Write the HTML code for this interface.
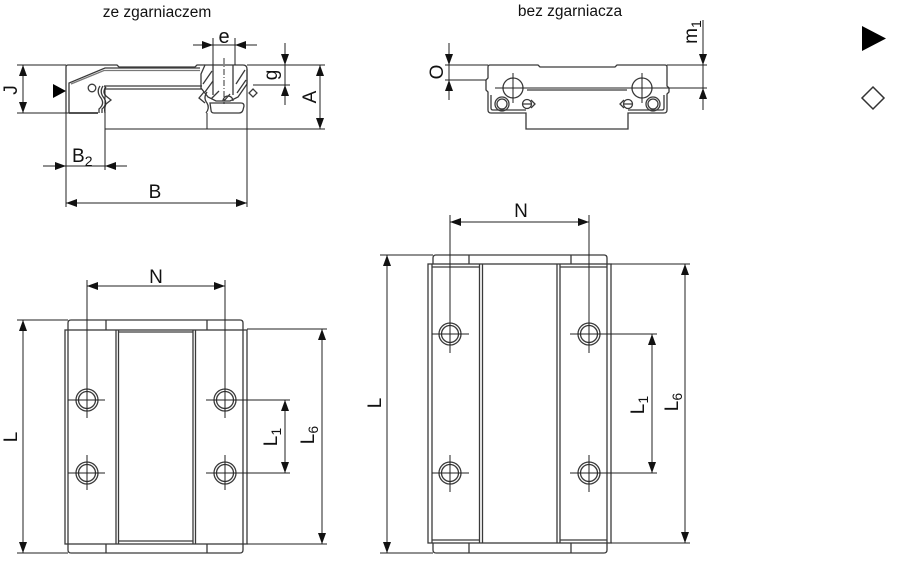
<!DOCTYPE html>
<html><head><meta charset="utf-8"><style>
html,body{margin:0;padding:0;background:#fff;}
svg{display:block;}
text{font-family:"Liberation Sans",Arial,sans-serif;fill:#111;}
</style></head><body>
<svg width="898" height="568" viewBox="0 0 898 568" xmlns="http://www.w3.org/2000/svg">
<defs>
<marker id="ar" markerUnits="userSpaceOnUse" markerWidth="12" markerHeight="9" refX="11" refY="4" orient="auto-start-reverse"><path d="M0,0 L11,4 L0,8 z" fill="#111"/></marker>
</defs>

<!-- titles -->
<text x="157" y="17" font-size="15.5" text-anchor="middle" fill="#222">ze zgarniaczem</text>
<text x="570" y="16" font-size="15.5" text-anchor="middle" fill="#222">bez zgarniacza</text>

<!-- right icons -->
<polygon points="862,26 886,38.5 862,51" fill="#000"/>
<polygon points="873,87 884,98 873,109 862,98" fill="none" stroke="#333" stroke-width="1.5"/>

<!-- ===== TOP LEFT (ze zgarniaczem) ===== -->
<g fill="none" stroke="#3a3a3a" stroke-width="1.3">
  <path d="M66,113 L66,67 Q66,65 68,65 L117,65 L119,67 L195,67 L197,65 L205,65"/>
  <path d="M69,113 L69,83 L105,68 L200,68"/>
  <path d="M71,84 L104,70.5 L200,70.5" stroke="#777"/>
  <path d="M69,113 L98,113" stroke-width="1.8"/>
  <path d="M104,86 L202,86 M104,89 L202,89"/>
  <path d="M100,86 Q96,92 101,98 Q105,104 99,109 L99,113"/>
  <path d="M103,86 Q99,92 104,98 Q108,104 102,109 L102,113"/>
  <path d="M106,87 Q102,92 106,96 L111,100 L106,104 Q104,108 105,113"/>
  <circle cx="92" cy="88" r="3.8"/>
  <path d="M205,65 L243,65 Q247,65 247,69 L247,84 L238,97 L230,101 L216,101 L208,97 L201,88 L201,74 Z"/>
  <path d="M213,65 L213,95 M233,65 L233,95"/>
  <path d="M203,84 L212,71 M205,92 L213,81 M236,84 L245,70 M237,93 L246,80 M211,99 L219,91 M224,101 L230,94"/>
  <path d="M223,101 A5,5 0 0 1 233,101"/>
  <path d="M210,103 L241,103 Q244,103 244,106 L243,110 Q242,113 239,113 L214,113 Q211,113 211,110 Z"/>
  <path d="M207,92 Q203,98 207,103 Q210,108 206,113"/>
  <path d="M204,92 L199,98 L205,103"/>
  <polygon points="253,89 257,93 253,97 249,93"/>
</g>
<path d="M224,58 L224,104" stroke="#333" stroke-width="1" stroke-dasharray="6,2,1,2"/>
<g stroke="#222" stroke-width="1" fill="none">
  <path d="M17,65 L66,65 M17,113 L69,113"/>
  <path d="M247,65 L325,65 M105,129 L325,129 M207,113 L207,129"/>
  <path d="M253,85 L290,85"/>
  <path d="M66,113 L66,207 M247,69 L247,207 M105,86 L105,170"/>
  <path d="M213,38 L213,65 M235,38 L235,65"/>
  <line x1="23" y1="65" x2="23" y2="113" marker-start="url(#ar)" marker-end="url(#ar)"/>
  <line x1="320" y1="65" x2="320" y2="129" marker-start="url(#ar)" marker-end="url(#ar)"/>
  <line x1="66" y1="203" x2="247" y2="203" marker-start="url(#ar)" marker-end="url(#ar)"/>
  <line x1="43" y1="166" x2="66" y2="166" marker-end="url(#ar)"/>
  <line x1="127" y1="166" x2="105" y2="166" marker-end="url(#ar)"/>
  <line x1="66" y1="166" x2="105" y2="166"/>
  <line x1="193" y1="45" x2="213" y2="45" marker-end="url(#ar)"/>
  <line x1="257" y1="45" x2="235" y2="45" marker-end="url(#ar)"/>
  <line x1="213" y1="45" x2="235" y2="45"/>
  <line x1="285" y1="43" x2="285" y2="65" marker-end="url(#ar)"/>
  <line x1="285" y1="105" x2="285" y2="85" marker-end="url(#ar)"/>
  <line x1="285" y1="65" x2="285" y2="85"/>
</g>
<polygon points="53,84 53,98 66,91" fill="#000"/>
<text x="224" y="43" font-size="20" text-anchor="middle">e</text>
<text x="72" y="162" font-size="19">B<tspan font-size="14" dy="4">2</tspan></text>
<text x="155" y="198" font-size="19" text-anchor="middle">B</text>
<text transform="translate(17,90) rotate(-90)" font-size="19" text-anchor="middle">J</text>
<text transform="translate(316,97) rotate(-90)" font-size="19" text-anchor="middle">A</text>
<text transform="translate(277,75) rotate(-90)" font-size="19" text-anchor="middle">g</text>

<!-- ===== TOP RIGHT (bez zgarniacza) ===== -->
<g fill="none" stroke="#3a3a3a" stroke-width="1.3">
  <path d="M488,67 Q488,65 490,65 L538,65 L540,67 L615,67 L617,65 L665,65 Q667,65 667,67 L667,86 L669,88 L669,92 L667,94 L667,110 Q667,113 664,113 L628,113 L628,129 L526,129 L526,113 L491,113 Q488,113 488,110 L488,92 L486,90 L486,80 L488,78 Z"/>
  <path d="M491,95 L491,108 Q491,110 493,110 L526,110"/>
  <path d="M664,95 L664,108 Q664,110 662,110 L628,110"/>
  <path d="M527,90 L627,90"/>
  <circle cx="513" cy="88" r="10"/>
  <circle cx="642" cy="88" r="10"/>
  <circle cx="502" cy="104" r="7"/><circle cx="502" cy="104" r="5"/>
  <circle cx="653" cy="104" r="7"/><circle cx="653" cy="104" r="5"/>
  <circle cx="527" cy="104" r="4.5"/><path d="M531,100 L535,104 L531,108 M523,104 L531,104"/>
  <circle cx="628" cy="104" r="4.5"/><path d="M624,100 L620,104 L624,108 M624,104 L632,104"/>
</g>
<g stroke="#222" stroke-width="1" fill="none">
  <path d="M495,88 L707,88"/>
  <path d="M513,73 L513,103 M642,73 L642,103"/>
  <path d="M445,65 L488,65 M445,80 L486,80 M667,65 L707,65"/>
  <line x1="449" y1="43" x2="449" y2="65" marker-end="url(#ar)"/>
  <line x1="449" y1="100" x2="449" y2="80" marker-end="url(#ar)"/>
  <line x1="449" y1="65" x2="449" y2="80"/>
  <line x1="703" y1="20" x2="703" y2="65" marker-end="url(#ar)"/>
  <line x1="703" y1="110" x2="703" y2="88" marker-end="url(#ar)"/>
  <line x1="703" y1="65" x2="703" y2="88"/>
</g>
<text transform="translate(443,72) rotate(-90)" font-size="19" text-anchor="middle">O</text>
<text transform="translate(697,32) rotate(-90)" font-size="19" text-anchor="middle">m<tspan font-size="14" dy="4">1</tspan></text>

<!-- ===== BOTTOM LEFT ===== -->
<g fill="none" stroke="#3a3a3a" stroke-width="1.3">
  <path d="M68,330 L68,323 Q68,320 71,320 L240,320 Q243,320 243,323 L243,330"/>
  <path d="M106,320 L106,330 M207,320 L207,330"/>
  <path d="M68,544 L68,550 Q68,553 71,553 L240,553 Q243,553 243,550 L243,544"/>
  <path d="M106,544 L106,553 M207,544 L207,553"/>
  <rect x="65" y="330" width="182" height="214"/>
  <path d="M68,330 L68,544 M243,330 L243,544"/>
  <path d="M116,330 L116,544 M118.5,330 L118.5,544 M193,330 L193,544 M195.5,330 L195.5,544"/>
  <path d="M118,332 L193,332 M118,541 L193,541"/>
  <circle cx="87" cy="400" r="11"/><circle cx="87" cy="400" r="8.5"/>
  <circle cx="87" cy="473" r="11"/><circle cx="87" cy="473" r="8.5"/>
  <circle cx="225" cy="400" r="11"/><circle cx="225" cy="400" r="8.5"/>
  <circle cx="225" cy="473" r="11"/><circle cx="225" cy="473" r="8.5"/>
</g>
<g stroke="#222" stroke-width="1" fill="none">
  <path d="M87,280 L87,418 M225,280 L225,418 M87,455 L87,490 M225,455 L225,490"/>
  <path d="M68,400 L105,400 M68,473 L105,473 M206,400 L290,400 M206,473 L290,473"/>
  <path d="M17,320 L68,320 M17,553 L68,553 M247,329 L327,329 M247,544 L327,544"/>
  <line x1="87" y1="286" x2="225" y2="286" marker-start="url(#ar)" marker-end="url(#ar)"/>
  <line x1="23" y1="320" x2="23" y2="553" marker-start="url(#ar)" marker-end="url(#ar)"/>
  <line x1="322" y1="329" x2="322" y2="544" marker-start="url(#ar)" marker-end="url(#ar)"/>
  <line x1="285" y1="400" x2="285" y2="473" marker-start="url(#ar)" marker-end="url(#ar)"/>
</g>
<text x="156" y="283" font-size="19" text-anchor="middle">N</text>
<text transform="translate(17,437) rotate(-90)" font-size="19" text-anchor="middle">L</text>
<text transform="translate(277,437) rotate(-90)" font-size="19" text-anchor="middle">L<tspan font-size="14" dy="4">1</tspan></text>
<text transform="translate(314,435) rotate(-90)" font-size="19" text-anchor="middle">L<tspan font-size="14" dy="4">6</tspan></text>

<!-- ===== BOTTOM RIGHT ===== -->
<g fill="none" stroke="#3a3a3a" stroke-width="1.3">
  <path d="M433,264 L433,258 Q433,255 436,255 L604,255 Q607,255 607,258 L607,264"/>
  <path d="M469,255 L469,264 M571,255 L571,264"/>
  <path d="M433,543 L433,550 Q433,553 436,553 L604,553 Q607,553 607,550 L607,543"/>
  <path d="M469,543 L469,553 M571,543 L571,553"/>
  <rect x="428" y="264" width="183" height="279"/>
  <path d="M432,264 L432,543 M607,264 L607,543"/>
  <path d="M479.5,264 L479.5,543 M482.5,264 L482.5,543 M557,264 L557,543 M560,264 L560,543"/>
  <path d="M432,267 L479,267 M560,267 L607,267 M432,540 L479,540 M560,540 L607,540"/>
  <circle cx="450" cy="334" r="11"/><circle cx="450" cy="334" r="8.5"/>
  <circle cx="450" cy="473" r="11"/><circle cx="450" cy="473" r="8.5"/>
  <circle cx="589" cy="334" r="11"/><circle cx="589" cy="334" r="8.5"/>
  <circle cx="589" cy="473" r="11"/><circle cx="589" cy="473" r="8.5"/>
</g>
<g stroke="#222" stroke-width="1" fill="none">
  <path d="M450,215 L450,353 M589,215 L589,353 M450,455 L450,492 M589,455 L589,492"/>
  <path d="M432,334 L469,334 M432,473 L469,473 M570,334 L657,334 M570,473 L657,473"/>
  <path d="M380,255 L433,255 M380,553 L433,553 M611,264 L690,264 M611,543 L690,543"/>
  <line x1="450" y1="222" x2="589" y2="222" marker-start="url(#ar)" marker-end="url(#ar)"/>
  <line x1="387" y1="255" x2="387" y2="553" marker-start="url(#ar)" marker-end="url(#ar)"/>
  <line x1="685" y1="264" x2="685" y2="543" marker-start="url(#ar)" marker-end="url(#ar)"/>
  <line x1="652" y1="334" x2="652" y2="473" marker-start="url(#ar)" marker-end="url(#ar)"/>
</g>
<text x="521" y="217" font-size="19" text-anchor="middle">N</text>
<text transform="translate(381,403) rotate(-90)" font-size="19" text-anchor="middle">L</text>
<text transform="translate(644,405) rotate(-90)" font-size="19" text-anchor="middle">L<tspan font-size="14" dy="4">1</tspan></text>
<text transform="translate(678,402) rotate(-90)" font-size="19" text-anchor="middle">L<tspan font-size="14" dy="4">6</tspan></text>
</svg>
</body></html>
